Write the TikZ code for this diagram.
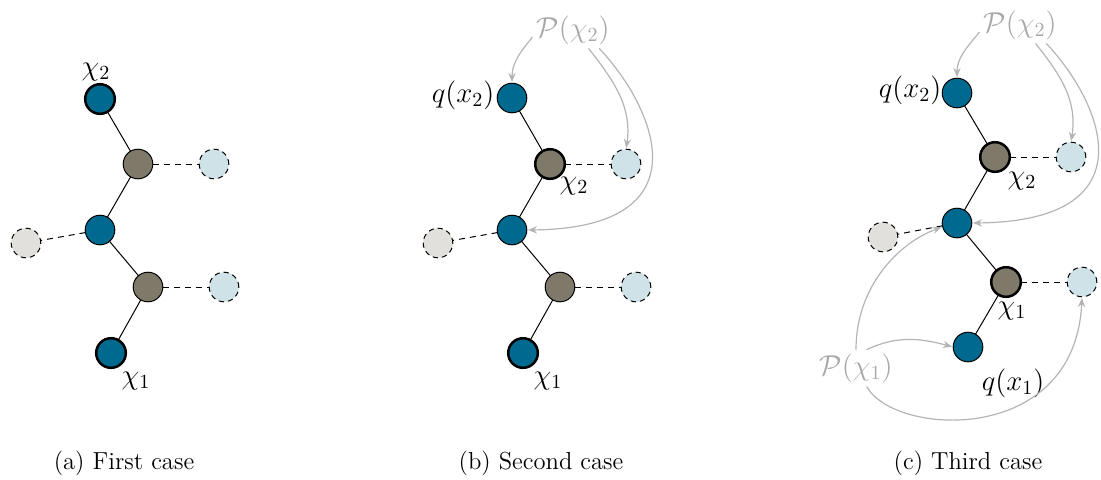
\documentclass[tikz,border=0pt]{standalone}
\usetikzlibrary{arrows.meta}
\definecolor{nblue}{HTML}{00698F}
\definecolor{nbrown}{HTML}{7F796A}
\definecolor{nlight}{HTML}{CFE2E8}
\definecolor{ngrey}{HTML}{E1E0DC}
\definecolor{parrow}{HTML}{B4B4B4}
\definecolor{ptext}{HTML}{A8A8A8}
\begin{document}
\begin{tikzpicture}[x=0.5pt,y=-0.5pt,
  vn/.style={circle,draw=black,line width=0.5pt,minimum size=14.8pt,inner sep=0pt,outer sep=0pt},
  bluen/.style={vn,fill=nblue},
  brownn/.style={vn,fill=nbrown},
  lightn/.style={vn,fill=nlight,dash pattern=on 2.6pt off 2pt},
  greyn/.style={vn,fill=ngrey,dash pattern=on 2.6pt off 2pt},
  heavy/.style={line width=1.25pt},
  treeline/.style={line width=0.5pt},
  sideline/.style={line width=0.5pt,dash pattern=on 3pt off 2.5pt},
  lbl/.style={font=\fontsize{14.4}{17}\selectfont,inner sep=0pt},
  plbl/.style={lbl,text=ptext,outer sep=2pt},
  parr/.style={draw=parrow,line width=0.6pt,-{Stealth[length=4.5pt,width=3.6pt]},shorten >=0.6pt},
  capt/.style={font=\fontsize{12.3}{15}\selectfont,inner sep=0pt}]
\useasboundingbox (0,0) rectangle (1101,479);

% ---------- (a) ----------
\node[bluen,heavy] (aq2) at (100,99) {};
\node[brownn] (ab2) at (138,164) {};
\node[lightn] (al2) at (214,164) {};
\node[bluen] (am) at (100,230) {};
\node[greyn] (ag) at (26,243) {};
\node[brownn] (ab1) at (148,287) {};
\node[lightn] (al1) at (224,287) {};
\node[bluen,heavy] (aq1) at (111,353) {};
\draw[treeline] (aq2) -- (ab2) -- (am) -- (ab1) -- (aq1);
\draw[sideline] (ab2) -- (al2);
\draw[sideline] (am) -- (ag);
\draw[sideline] (ab1) -- (al1);
\node[lbl] (achi2) at (96,72) {$\chi_2$};
\node[lbl] (achi1) at (136,381) {$\chi_1$};
\node[capt] (acap) at (124,463) {(a) First case};

% ---------- (b) ----------
\node[bluen] (bq2) at (512,98) {};
\node[brownn,heavy] (bb2) at (550,164) {};
\node[lightn] (bl2) at (626,164) {};
\node[bluen] (bm) at (512,230) {};
\node[greyn] (bg) at (438,243) {};
\node[brownn] (bb1) at (560,287) {};
\node[lightn] (bl1) at (636,287) {};
\node[bluen,heavy] (bq1) at (523,353) {};
\draw[treeline] (bq2) -- (bb2) -- (bm) -- (bb1) -- (bq1);
\draw[sideline] (bb2) -- (bl2);
\draw[sideline] (bm) -- (bg);
\draw[sideline] (bb1) -- (bl1);
\node[lbl] (bqx2) at (463,95) {$q(x_2)$};
\node[lbl] (bchi2) at (574,186) {$\chi_2$};
\node[lbl] (bchi1) at (548,381) {$\chi_1$};
\node[plbl] (bP2) at (573,30) {$\mathcal{P}(\chi_2)$};
\draw[parr] (bP2.190) to[out=230,in=90] (bq2.north);
\draw[parr] (bP2.-50) .. controls +(28,35) and +(6,-40) .. (bl2.north);
\draw[parr] (bP2.-35) .. controls +(58,62) and +(178,-2) .. (bm.east);
\node[capt] (bcap) at (541,463) {(b) Second case};

% ---------- (c) ----------
\node[bluen] (cq2) at (957,93) {};
\node[brownn,heavy] (cb2) at (995,157) {};
\node[lightn] (cl2) at (1071,157) {};
\node[bluen] (cm) at (957,223) {};
\node[greyn] (cg) at (883,237) {};
\node[brownn,heavy] (cb1) at (1006,282) {};
\node[lightn] (cl1) at (1082,282) {};
\node[bluen] (cq1) at (968,347) {};
\draw[treeline] (cq2) -- (cb2) -- (cm) -- (cb1) -- (cq1);
\draw[sideline] (cb2) -- (cl2);
\draw[sideline] (cm) -- (cg);
\draw[sideline] (cb1) -- (cl1);
\node[lbl] (cqx2) at (910,90) {$q(x_2)$};
\node[lbl] (cchi2) at (1022,181) {$\chi_2$};
\node[lbl] (cchi1) at (1012,311) {$\chi_1$};
\node[lbl] (cqx1) at (1013,383) {$q(x_1)$};
\node[plbl] (cP2) at (1020,25) {$\mathcal{P}(\chi_2)$};
\node[plbl] (cP1) at (856,368) {$\mathcal{P}(\chi_1)$};
\draw[parr] (cP2.190) to[out=230,in=90] (cq2.north);
\draw[parr] (cP2.-50) .. controls +(28,35) and +(6,-40) .. (cl2.north);
\draw[parr] (cP2.-35) .. controls +(58,62) and +(178,-2) .. (cm.east);
\draw[parr] (cP1.north) .. controls +(0,-65) and +(-42,15) .. (cm.195);
\draw[parr] (cP1.60) to[out=25,in=165] (cq1.west);
\draw[parr] (cP1.-60) .. controls +(27,50) and +(-7,150) .. (cl1.south);
\node[capt] (ccap) at (968,463) {(c) Third case};
\end{tikzpicture}
\end{document}
